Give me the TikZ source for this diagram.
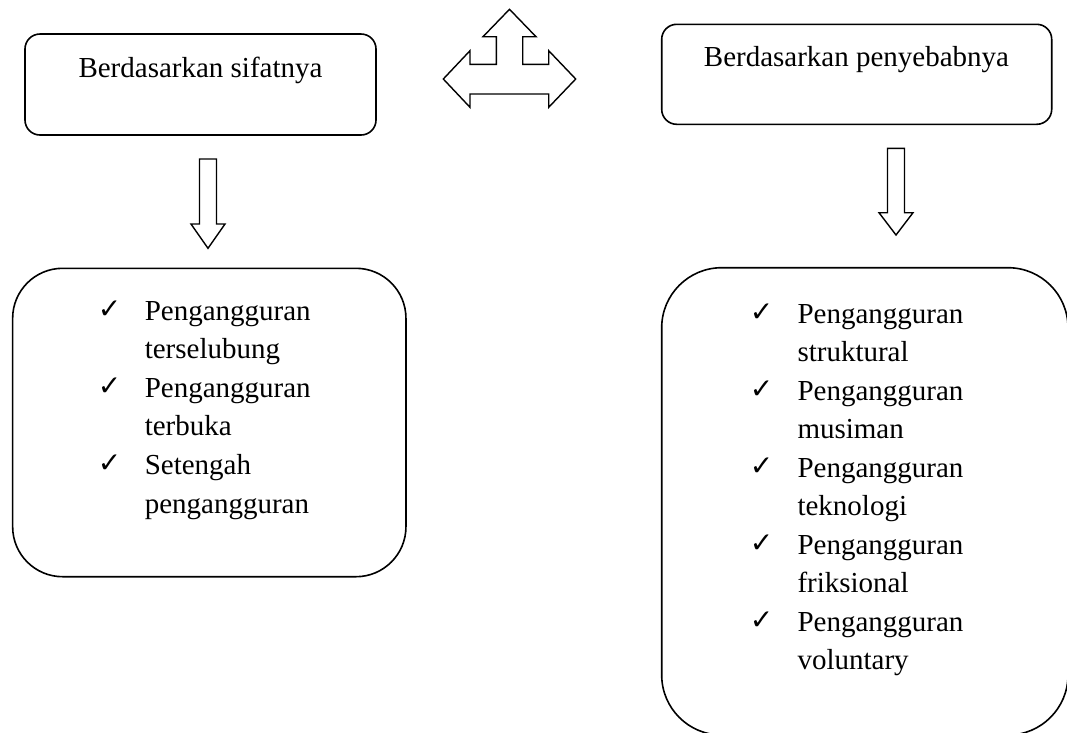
\documentclass[tikz,border=0pt]{standalone}
\usepackage{fontspec}
\setmainfont{Liberation Serif}
\newfontfamily\symfont{DejaVu Sans}
\begin{document}
\begin{tikzpicture}[x=1pt,y=-1pt, line width=1.6pt, line join=miter,
  box/.style={draw, inner sep=0pt, outer sep=0pt},
  lbl/.style={font=\fontsize{29}{35}\selectfont, inner sep=0pt, anchor=base},
  item/.style={font=\fontsize{29}{35}\selectfont, inner sep=0pt, anchor=base west},
  chk/.style={font=\symfont\bfseries\fontsize{28}{32}\selectfont, inner sep=0pt, anchor=base west},
  blockarrow/.style={draw, line width=1.4pt, fill=white}]
\useasboundingbox (0,0) rectangle (1067,732);

% top boxes
\node[box, rounded corners=15pt, minimum width=351pt, minimum height=101pt] (b1) at (200.5,84.5) {};
\node[lbl] (t1) at (200.5,77) {Berdasarkan sifatnya};
\node[box, rounded corners=15pt, minimum width=390pt, minimum height=100pt] (b2) at (856.7,74.3) {};
\node[lbl] (t2) at (856.5,66.7) {Berdasarkan penyebabnya};

% triple arrow
\draw[blockarrow] (509.5,9.3) -- (536,36.7) -- (522.7,36.7) -- (522.7,64.3) -- (548.7,64.3) -- (548.7,50.7) -- (575.7,79) -- (548.7,107.3) -- (548.7,94) -- (470,94) -- (470,107.3) -- (443.3,79) -- (470,50.7) -- (470,64.3) -- (496.3,64.3) -- (496.3,36.7) -- (483,36.7) -- cycle;

% down arrows
\draw[blockarrow] (199.5,159) -- (216.5,159) -- (216.5,224) -- (225,224) -- (208,248.3) -- (191,224) -- (199.5,224) -- cycle;
\draw[blockarrow] (887.5,148.3) -- (904.5,148.3) -- (904.5,212.7) -- (913,212.7) -- (896,235) -- (879,212.7) -- (887.5,212.7) -- cycle;

% list boxes
\node[box, rounded corners=50pt, minimum width=393.3pt, minimum height=308.4pt] (b3) at (209.3,422.5) {};
\node[box, rounded corners=60pt, minimum width=406.3pt, minimum height=467.3pt] (b4) at (864.85,501.35) {};

% left list
\node[chk] (c1) at (97,318) {✓};
\node[item] (l1) at (144,320) {Pengangguran};
\node[item] (l2) at (144,358.6) {terselubung};
\node[chk] (c2) at (97,395.2) {✓};
\node[item] (l3) at (144,397.2) {Pengangguran};
\node[item] (l4) at (144,435.8) {terbuka};
\node[chk] (c3) at (97,472.4) {✓};
\node[item] (l5) at (144,474.4) {Setengah};
\node[item] (l6) at (144,513) {pengangguran};

% right list
\node[chk] (d1) at (749,321.3) {✓};
\node[item] (r1) at (796.7,323.3) {Pengangguran};
\node[item] (r2) at (796.7,361.8) {struktural};
\node[chk] (d2) at (749,398.3) {✓};
\node[item] (r3) at (796.7,400.3) {Pengangguran};
\node[item] (r4) at (796.7,438.8) {musiman};
\node[chk] (d3) at (749,475.3) {✓};
\node[item] (r5) at (796.7,477.3) {Pengangguran};
\node[item] (r6) at (796.7,515.8) {teknologi};
\node[chk] (d4) at (749,552.3) {✓};
\node[item] (r7) at (796.7,554.3) {Pengangguran};
\node[item] (r8) at (796.7,592.8) {friksional};
\node[chk] (d5) at (749,629.3) {✓};
\node[item] (r9) at (796.7,631.3) {Pengangguran};
\node[item] (r10) at (796.7,669.8) {voluntary};
\end{tikzpicture}
\end{document}
